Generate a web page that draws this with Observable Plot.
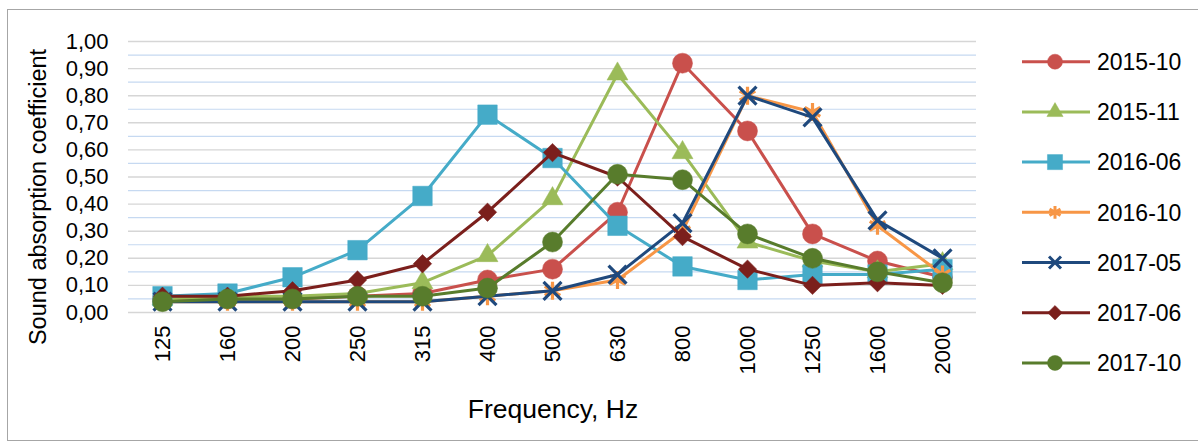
<!DOCTYPE html>
<html>
<head>
<meta charset="utf-8">
<script src="https://cdn.jsdelivr.net/npm/d3@7"></script>
<script src="https://cdn.jsdelivr.net/npm/@observablehq/plot@0.6"></script>
<style>
  html, body { margin: 0; padding: 0; background: #fff; }
  #wrap { position: relative; width: 1198px; height: 444px; overflow: hidden; font-family: "Liberation Sans", Arial, sans-serif; }
  #frame { position: absolute; left: 7px; top: 9px; width: 1196px; height: 432px; border: 1px solid #a6a6a6; box-sizing: border-box; }
  #chart { position: absolute; left: 0; top: 0; }
  #ytitle { position: absolute; left: 38px; top: 197px; transform: translate(-50%, -50%) rotate(-90deg); font-size: 23.5px; white-space: nowrap; color: #000; }
  #xtitle { position: absolute; left: 553px; top: 409px; transform: translate(-50%, -50%); font-size: 26.5px; white-space: nowrap; color: #000; }
  #legend { position: absolute; left: 1010px; top: 30px; }
</style>
</head>
<body>
<div id="wrap">
  <div id="frame"></div>
  <div id="chart"></div>
  <div id="ytitle">Sound absorption coefficient</div>
  <div id="xtitle">Frequency, Hz</div>
  <div id="legend"></div>
</div>
<script>
// ---- data ----
const frequencies = ["125","160","200","250","315","400","500","630","800","1000","1250","1600","2000"];
const seriesNames = ["2015-10","2015-11","2016-06","2016-10","2017-05","2017-06","2017-10"];
const s2015_10 = [0.05,0.05,0.05,0.06,0.07,0.12,0.16,0.37,0.92,0.67,0.29,0.19,0.13];
const s2015_11 = [0.05,0.06,0.06,0.07,0.11,0.21,0.42,0.88,0.59,0.26,0.19,0.15,0.18];
const s2016_06 = [0.06,0.07,0.13,0.23,0.43,0.73,0.57,0.32,0.17,0.12,0.14,0.14,0.16];
const s2016_10 = [0.04,0.04,0.04,0.04,0.04,0.06,0.08,0.12,0.30,0.80,0.74,0.32,0.14];
const s2017_05 = [0.04,0.04,0.04,0.04,0.04,0.06,0.08,0.14,0.33,0.80,0.72,0.34,0.20];
const s2017_06 = [0.06,0.06,0.08,0.12,0.18,0.37,0.59,0.50,0.28,0.16,0.10,0.11,0.10];
const s2017_10 = [0.04,0.05,0.05,0.06,0.06,0.09,0.26,0.51,0.49,0.29,0.20,0.15,0.11];
const yTicks = [0,0.1,0.2,0.3,0.4,0.5,0.6,0.7,0.8,0.9,1.0];
const yMinorTicks = [0.05,0.15,0.25,0.35,0.45,0.55,0.65,0.75,0.85,0.95];

// ---- styles ----
const seriesValues = [s2015_10, s2015_11, s2016_06, s2016_10, s2017_05, s2017_06, s2017_10];
const styles = [
  {color: "#c9504c", symbol: "circle",   r: 10,  filled: true},
  {color: "#9bbb59", symbol: "triangle", r: 7.8, filled: true},
  {color: "#45abc8", symbol: "square",   r: 11,  filled: true},
  {color: "#f79646", symbol: "asterisk", r: 8.5, filled: false},
  {color: "#1f497d", symbol: "times",    r: 8.2, filled: false},
  {color: "#7b1f1c", symbol: "diamond2", r: 8.3, filled: true},
  {color: "#587c2c", symbol: "circle",   r: 10,  filled: true}
];

const fmt = d => d.toFixed(2).replace(".", ",");

const marks = [
  Plot.ruleY(yMinorTicks, {stroke: "#c6d9f1", strokeWidth: 1.2}),
  Plot.ruleY(yTicks, {stroke: "#d6d6d6", strokeWidth: 1.4}),
  Plot.axisY({ticks: yTicks, tickFormat: fmt, tickSize: 0, tickPadding: 20, fontSize: 22, label: null, fill: "#000"}),
  Plot.axisX({tickRotate: -90, tickSize: 0, tickPadding: 13, fontSize: 22, label: null, fill: "#000"})
];

seriesNames.forEach((name, i) => {
  const st = styles[i];
  const rows = frequencies.map((f, j) => ({freq: f, value: seriesValues[i][j], series: name}));
  marks.push(Plot.line(rows, {x: "freq", y: "value", stroke: st.color, strokeWidth: 3}));
  if (st.filled) {
    marks.push(Plot.dot(rows, {x: "freq", y: "value", symbol: () => st.symbol, r: st.r, fill: st.color, stroke: st.color, strokeWidth: 0.5}));
  } else {
    marks.push(Plot.dot(rows, {x: "freq", y: "value", symbol: () => st.symbol, r: st.r, stroke: st.color, strokeWidth: 3.2, fill: "none"}));
  }
});

const plot = Plot.plot({
  width: 1000,
  height: 444,
  marginLeft: 128,
  marginRight: 24,
  marginTop: 41,
  marginBottom: 132,
  style: {fontFamily: "'Liberation Sans', Arial, sans-serif", background: "transparent", overflow: "visible", color: "#000"},
  x: {type: "point", domain: frequencies, padding: 0.5, axis: null},
  y: {domain: [0, 1], axis: null},
  symbol: {type: "identity"},
  marks
});
document.getElementById("chart").appendChild(plot);

// ---- legend ----
const lg = d3.select("#legend").append("svg").attr("width", 188).attr("height", 370)
  .style("font-family", "'Liberation Sans', Arial, sans-serif");
const symMap = {circle: d3.symbolCircle, triangle: d3.symbolTriangle, square: d3.symbolSquare,
  asterisk: d3.symbolAsterisk, times: d3.symbolTimes, diamond2: d3.symbolDiamond2};
const legendR = [7.5, 6, 8.5, 6, 5.5, 6.5, 7.5];
seriesNames.forEach((name, i) => {
  const st = styles[i];
  const cy = 31.7 + i * 50.2;
  const g = lg.append("g");
  g.append("line").attr("x1", 12).attr("x2", 80).attr("y1", cy).attr("y2", cy)
    .attr("stroke", st.color).attr("stroke-width", 3);
  const r = legendR[i];
  g.append("path").attr("transform", `translate(45,${cy})`)
    .attr("d", d3.symbol(symMap[st.symbol], Math.PI * r * r)())
    .attr("fill", st.filled ? st.color : "none")
    .attr("stroke", st.color).attr("stroke-width", st.filled ? 0.5 : 3);
  g.append("text").attr("x", 87).attr("y", cy).attr("dy", "0.36em")
    .attr("font-size", 23).attr("fill", "#000").text(name);
});
</script>
</body>
</html>
